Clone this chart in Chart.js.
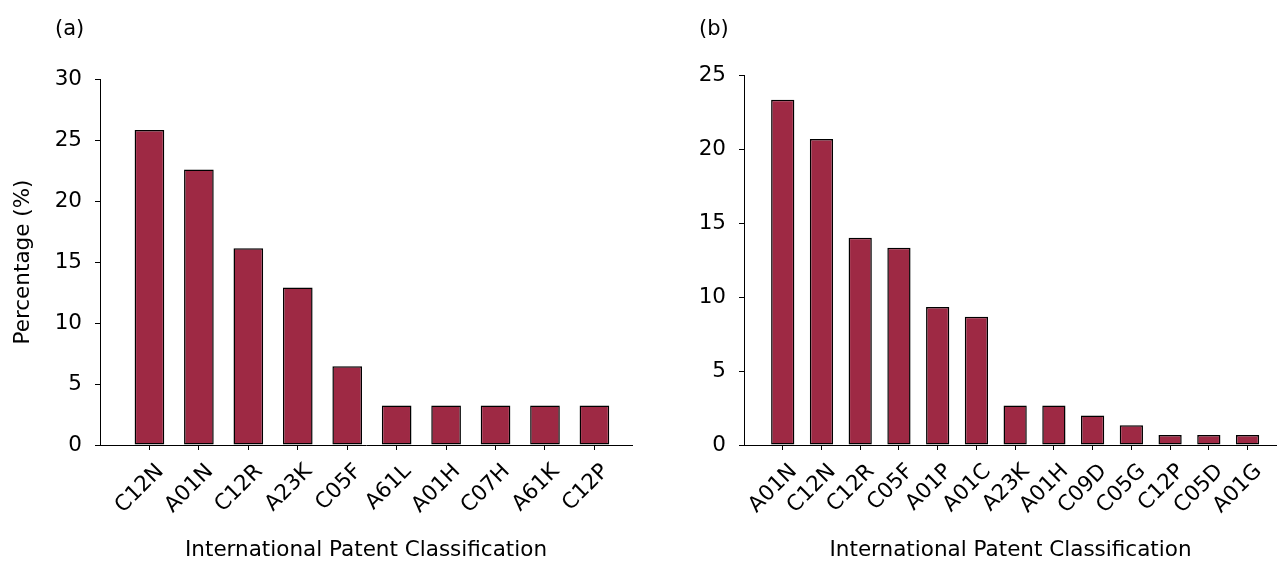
<!DOCTYPE html>
<html lang="en">
<head>
    <meta charset="UTF-8">
    <title>International Patent Classification shares</title>
    <script src="https://cdn.jsdelivr.net/npm/chart.js"></script>
    <style>
        body { margin: 0; background: #fff; }
        #wrap { position: relative; width: 1277px; height: 563px; font-family: 'DejaVu Sans', sans-serif; }
        canvas { position: absolute; top: 0; }
        .panel { position: absolute; top: 18px; font-size: 21px; line-height: 20px; color: #000; }
    </style>
</head>
<body>
    <div id="wrap">
        <canvas id="chartA" width="640" height="563" style="left:0"></canvas>
        <canvas id="chartB" width="637" height="563" style="left:640px"></canvas>
        <div class="panel" style="left:55px">(a)</div>
        <div class="panel" style="left:699px">(b)</div>
    </div>
    <script>
        // panel (a)
        const labelsA = ['C12N', 'A01N', 'C12R', 'A23K', 'C05F', 'A61L', 'A01H', 'C07H', 'A61K', 'C12P'];
        const valuesA = [25.81, 22.58, 16.13, 12.90, 6.45, 3.23, 3.23, 3.23, 3.23, 3.23];
        const yMaxA = 30;

        // panel (b)
        const labelsB = ['A01N', 'C12N', 'C12R', 'C05F', 'A01P', 'A01C', 'A23K', 'A01H', 'C09D', 'C05G', 'C12P', 'C05D', 'A01G'];
        const valuesB = [23.33, 20.67, 14.00, 13.33, 9.33, 8.67, 2.67, 2.67, 2.00, 1.33, 0.67, 0.67, 0.67];
        const yMaxB = 25;

        const yStep = 5;
        const xTitle = 'International Patent Classification';
        const yTitle = 'Percentage (%)';

        const barColor = '#9e2944';
        const font = { family: 'DejaVu Sans', size: 21.5 };

        function createGraph(id, labels, values, yMax, cfg) {
            const ctx = document.getElementById(id).getContext('2d');
            return new Chart(ctx, {
                type: 'bar',
                data: {
                    datasets: [{
                        data: values.map((v, i) => ({ x: i, y: v })),
                        backgroundColor: barColor,
                        borderColor: '#000',
                        borderWidth: 1.5,
                        borderSkipped: false,
                        categoryPercentage: 1,
                        barPercentage: 0.6
                    }]
                },
                options: {
                    responsive: false,
                    animation: false,
                    devicePixelRatio: 1,
                    layout: { padding: cfg.padding },
                    plugins: { legend: { display: false }, tooltip: { enabled: false } },
                    scales: {
                        x: {
                            type: 'linear',
                            offset: false,
                            min: -1,
                            max: cfg.xMax,
                            afterBuildTicks: s => { s.ticks = labels.map((_, i) => ({ value: i })); },
                            afterFit: s => { s.height = 118; },
                            ticks: {
                                autoSkip: false,
                                maxRotation: 45,
                                minRotation: 45,
                                padding: 9,
                                labelOffset: 11,
                                color: '#000',
                                font: font,
                                callback: v => labels[v]
                            },
                            grid: { offset: false, drawOnChartArea: false, tickLength: 5, color: '#000' },
                            border: { color: '#000', width: 1 },
                            title: { display: true, text: xTitle, color: '#000', font: font, padding: 0 }
                        },
                        y: {
                            min: 0,
                            max: yMax,
                            ticks: { stepSize: yStep, padding: 13, color: '#000', font: font },
                            afterFit: s => { s.width = cfg.yWidth; },
                            grid: { drawOnChartArea: false, tickLength: 5, color: '#000' },
                            border: { color: '#000', width: 1 },
                            title: { display: cfg.showY, text: yTitle, color: '#000', font: font, padding: 0 }
                        }
                    }
                }
            });
        }

        createGraph('chartA', labelsA, valuesA, yMaxA, {
            padding: { left: 11, top: 79, right: 8, bottom: 0 },
            yWidth: 89, xMax: 9.76, showY: true
        });
        createGraph('chartB', labelsB, valuesB, yMaxB, {
            padding: { left: 0, top: 75, right: 0, bottom: 0 },
            yWidth: 104, xMax: 12.76, showY: false
        });
    </script>
</body>
</html>
